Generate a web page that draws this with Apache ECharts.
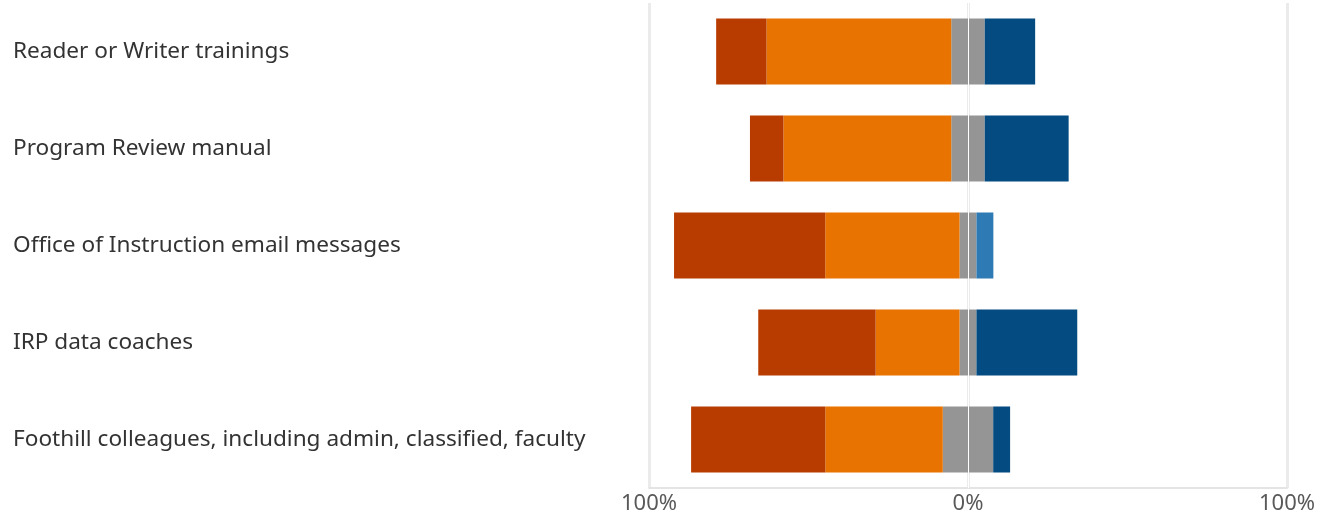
<!DOCTYPE html>
<html>
<head>
<meta charset="utf-8">
<script src="https://cdn.jsdelivr.net/npm/echarts@6/dist/echarts.min.js"></script>
<style>
  html, body { margin: 0; padding: 0; background: #fff; }
  #chart { width: 1319px; height: 519px; }
</style>
</head>
<body>
<div id="chart"></div>
<script>
// share of respondents (%) per resource
var categories = [
  'Reader or Writer trainings',
  'Program Review manual',
  'Office of Instruction email messages',
  'IRP data coaches',
  'Foothill colleagues, including admin, classified, faculty'
]
var notUseful = [15.8, 10.5, 47.4, 36.8, 42.1]
var slightlyUseful = [57.9, 52.6, 42.1, 26.3, 36.8]
var neutral = [10.5, 10.5, 5.3, 5.3, 15.8]
var useful = [15.8, 26.3, 0, 31.6, 5.3]
var veryUseful = [0, 0, 5.3, 0, 0]
var tickLabels = { '-100': '100%', '0': '0%', '100': '100%' }

var chart = echarts.init(document.getElementById('chart'))

function bar(name, data, color, extra) {
  return Object.assign({
    name: name,
    type: 'bar',
    stack: 'total',
    barWidth: '68%',
    itemStyle: { color: color },
    data: data
  }, extra || {})
}

chart.setOption({
  animation: false,
  textStyle: { fontFamily: 'Noto Sans' },
  grid: { left: 649, right: 32, top: 3, bottom: 31 },
  xAxis: {
    type: 'value',
    min: -100,
    max: 100,
    interval: 100,
    axisLine: { show: true, lineStyle: { color: '#e4e4e4', width: 2 } },
    axisTick: { show: false },
    splitLine: { show: true, lineStyle: { color: '#ebebeb', width: 3 } },
    axisLabel: {
      color: '#595959',
      fontSize: 22,
      margin: 5,
      formatter: function(v) { return tickLabels[String(v)] }
    }
  },
  yAxis: {
    type: 'category',
    inverse: true,
    data: categories,
    axisLine: { show: false },
    axisTick: { show: false },
    axisLabel: {
      align: 'left',
      margin: 636,
      color: '#333333',
      fontSize: 22.6,
      padding: [10, 0, 0, 0]
    }
  },
  series: [
    bar('Neutral', neutral.map(function(v) { return -v / 2 }), '#959595', {
      markLine: {
        silent: true,
        symbol: 'none',
        label: { show: false },
        lineStyle: { color: '#ffffff', width: 1, type: 'solid' },
        data: [{ xAxis: 0 }]
      }
    }),
    bar('Slightly useful', slightlyUseful.map(function(v) { return -v }), '#E97300'),
    bar('Not useful', notUseful.map(function(v) { return -v }), '#B83C00'),
    bar('Neutral ', neutral.map(function(v) { return v / 2 }), '#959595'),
    bar('Useful', useful, '#034B80'),
    bar('Very useful', veryUseful, '#2E7AB5')
  ]
})
</script>
</body>
</html>
